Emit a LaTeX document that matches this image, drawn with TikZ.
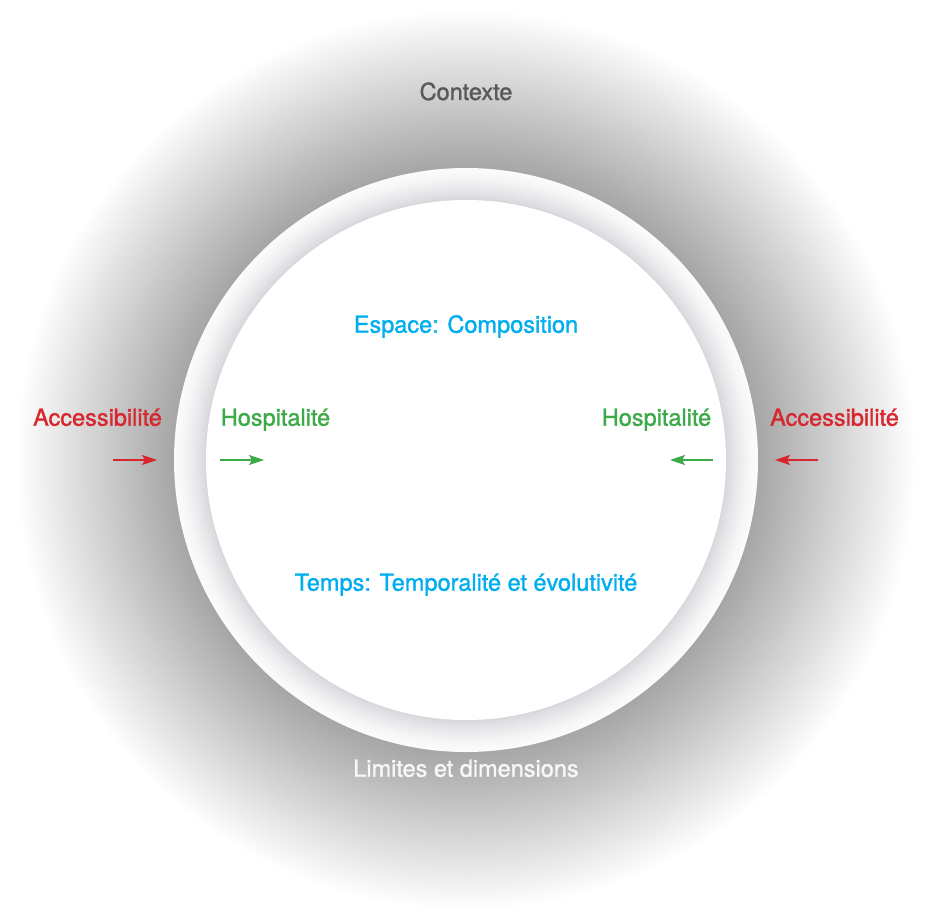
\documentclass[tikz,border=0pt]{standalone}
\usepackage{fontspec}
\newfontfamily\lab[FakeBold=1.3]{TeX Gyre Heros}
\usetikzlibrary{arrows.meta}
\definecolor{accred}{RGB}{215,38,46}
\definecolor{hosgreen}{RGB}{60,170,72}
\definecolor{ecyan}{RGB}{0,174,239}
\definecolor{ctxgray}{RGB}{88,89,91}
\definecolor{ringgray}{RGB}{214,215,219}
\definecolor{limwhite}{RGB}{248,248,248}
\tikzset{
  lbl/.style={inner sep=0pt, anchor=base, font=\lab\fontsize{23.5}{27}\selectfont},
  arr/.style={line width=1.2pt, -{Stealth[length=15pt,width=10pt,inset=3pt]}},
}
\begin{document}
\begin{tikzpicture}[x=1pt,y=-1pt]
\useasboundingbox (0,0) rectangle (929,915);
\coordinate (c) at (466,460);
% outer context gradient
\foreach \i in {0,...,158} {
  \pgfmathsetmacro\rr{450-\i}
  \pgfmathsetmacro\kk{35*\i/158}
  \fill[black!\kk] (c) circle (\rr pt);
}
% ring
\foreach \i in {0,...,32} {
  \pgfmathsetmacro\rr{292-\i}
  \pgfmathsetmacro\kk{10+90*(\i/32)^1.5}
  \fill[ringgray!\kk!white] (c) circle (\rr pt);
}
% inner white disk
\fill[white] (c) circle (260pt);

% labels
\node[lbl, text=ctxgray] (ctx) at (466,100) {Contexte};
\node[lbl, text=ecyan] (esp) at (466,332.7) {Espace: Composition};
\node[lbl, text=ecyan] (tmp) at (466,590.7) {Temps: Temporalité et évolutivité};
\node[lbl, text=accred] (accL) at (97.5,425.7) {Accessibilité};
\node[lbl, text=hosgreen] (hosL) at (275.5,425.7) {Hospitalité};
\node[lbl, text=hosgreen] (hosR) at (656.5,425.7) {Hospitalité};
\node[lbl, text=accred] (accR) at (834.5,425.7) {Accessibilité};
\node[lbl, text=limwhite] (lim) at (466,776.7) {Limites et dimensions};

% arrows
\coordinate (aL1) at (113,460); \coordinate (aL2) at (157,460);
\coordinate (hL1) at (220,460); \coordinate (hL2) at (264,460);
\coordinate (hR1) at (713,460); \coordinate (hR2) at (670,460);
\coordinate (aR1) at (818,460); \coordinate (aR2) at (775,460);
\draw[arr, accred] (aL1) -- (aL2);
\draw[arr, hosgreen] (hL1) -- (hL2);
\draw[arr, hosgreen] (hR1) -- (hR2);
\draw[arr, accred] (aR1) -- (aR2);
\end{tikzpicture}
\end{document}
